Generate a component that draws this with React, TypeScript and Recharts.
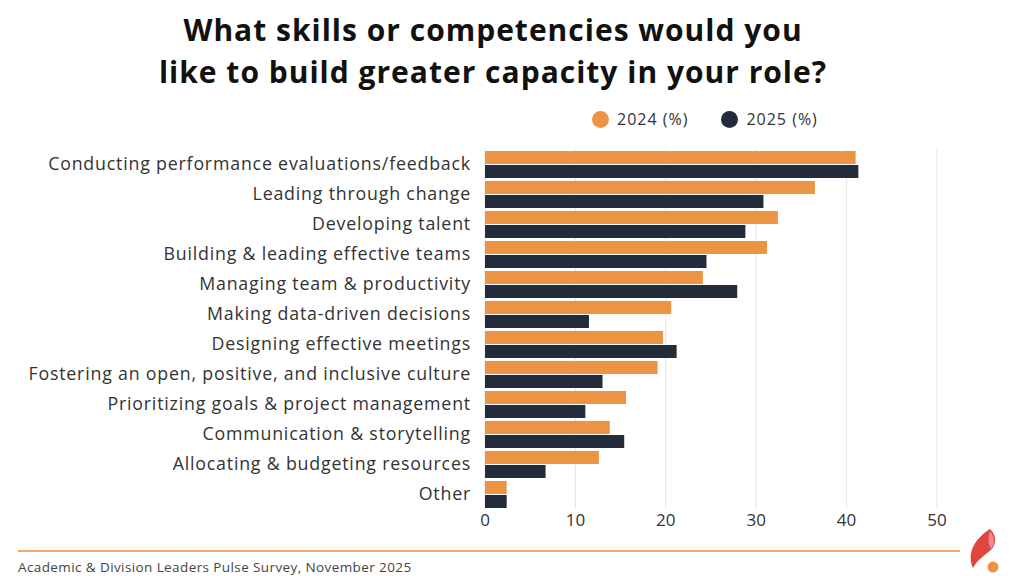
import { Bar, BarChart, CartesianGrid, Legend, XAxis, YAxis } from "recharts";

const categories = [
  "Conducting performance evaluations/feedback",
  "Leading through change",
  "Developing talent",
  "Building & leading effective teams",
  "Managing team & productivity",
  "Making data-driven decisions",
  "Designing effective meetings",
  "Fostering an open, positive, and inclusive culture",
  "Prioritizing goals & project management",
  "Communication & storytelling",
  "Allocating & budgeting resources",
  "Other",
];
const values2024 = [41.0, 36.5, 32.4, 31.2, 24.1, 20.6, 19.7, 19.1, 15.6, 13.8, 12.6, 2.4];
const values2025 = [41.3, 30.8, 28.8, 24.5, 27.9, 11.5, 21.2, 13.0, 11.1, 15.4, 6.7, 2.4];
const xTicks = [0, 10, 20, 30, 40, 50];

const ORANGE = "#ED9444";
const NAVY = "#242C3C";
const FONT = "'Open Sans', sans-serif";

const data = categories.map((name, i) => ({
  name,
  y2024: values2024[i],
  y2025: values2025[i],
}));

function LegendContent({ payload }: any) {
  return (
    <div style={{ display: "flex", gap: 33, fontFamily: FONT, fontSize: 16, letterSpacing: 1, color: "#333" }}>
      {(payload || []).map((p: any) => (
        <div key={p.value} style={{ display: "flex", alignItems: "center", gap: 8 }}>
          <span style={{ width: 17, height: 17, borderRadius: "50%", background: p.color, display: "inline-block" }} />
          <span>{p.value}</span>
        </div>
      ))}
    </div>
  );
}

export default function App() {
  return (
    <div style={{ position: "fixed", left: 0, top: 0, width: 1024, height: 576, background: "#fff", overflow: "hidden" }}>
      <div
        style={{
          position: "absolute",
          top: 9,
          left: 0,
          width: 986,
          textAlign: "center",
          fontFamily: FONT,
          fontWeight: 700,
          fontSize: 30,
          letterSpacing: 1,
          lineHeight: "42px",
          color: "#111",
        }}
      >
        What skills or competencies would you
        <br />
        like to build greater capacity in your role?
      </div>

      <BarChart
        width={1024}
        height={576}
        data={data}
        layout="vertical"
        margin={{ top: 149, right: 87, bottom: 37, left: 0 }}
        barSize={13}
        barGap={1}
      >
        <CartesianGrid horizontal={false} stroke="#e6e6e6" />
        <XAxis
          type="number"
          domain={[0, 50]}
          ticks={xTicks}
          axisLine={false}
          tickLine={false}
          tickSize={0}
          tickMargin={5}
          height={30}
          tick={{ fontSize: 17, fill: "#333", fontFamily: FONT }}
        />
        <YAxis
          type="category"
          dataKey="name"
          width={485}
          axisLine={false}
          tickLine={false}
          tickSize={0}
          tickMargin={14}
          interval={0}
          tick={{ fontSize: 17.8, fill: "#333", fontFamily: FONT, letterSpacing: 0.8 }}
        />
        <Legend
          verticalAlign="middle"
          align="center"
          content={<LegendContent />}
          wrapperStyle={{ top: 108, left: 592, width: "auto" }}
        />
        <Bar dataKey="y2024" name="2024 (%)" fill={ORANGE} isAnimationActive={false} />
        <Bar dataKey="y2025" name="2025 (%)" fill={NAVY} isAnimationActive={false} />
      </BarChart>

      <div style={{ position: "absolute", left: 18, top: 550, width: 942, height: 1.5, background: "#F0A868" }} />
      <div
        style={{
          position: "absolute",
          left: 18,
          top: 558,
          fontFamily: FONT,
          fontSize: 13.5,
          letterSpacing: 0.4,
          color: "#444",
        }}
      >
        Academic &amp; Division Leaders Pulse Survey, November 2025
      </div>
      <svg style={{ position: "absolute", left: 964, top: 526 }} width={40} height={50}>
        <path d="M 26 3 C 12 12, 2 26, 9 42 C 13 34, 20 30, 28 23 C 33 16, 32 9, 26 3 Z" fill="#E0463C" />
        <path d="M 26 5 C 30 10, 32 17, 27 23 C 24 18, 24 12, 26 5 Z" fill="#EE8A94" />
        <circle cx={29} cy={41} r={5.5} fill={ORANGE} />
      </svg>
    </div>
  );
}
